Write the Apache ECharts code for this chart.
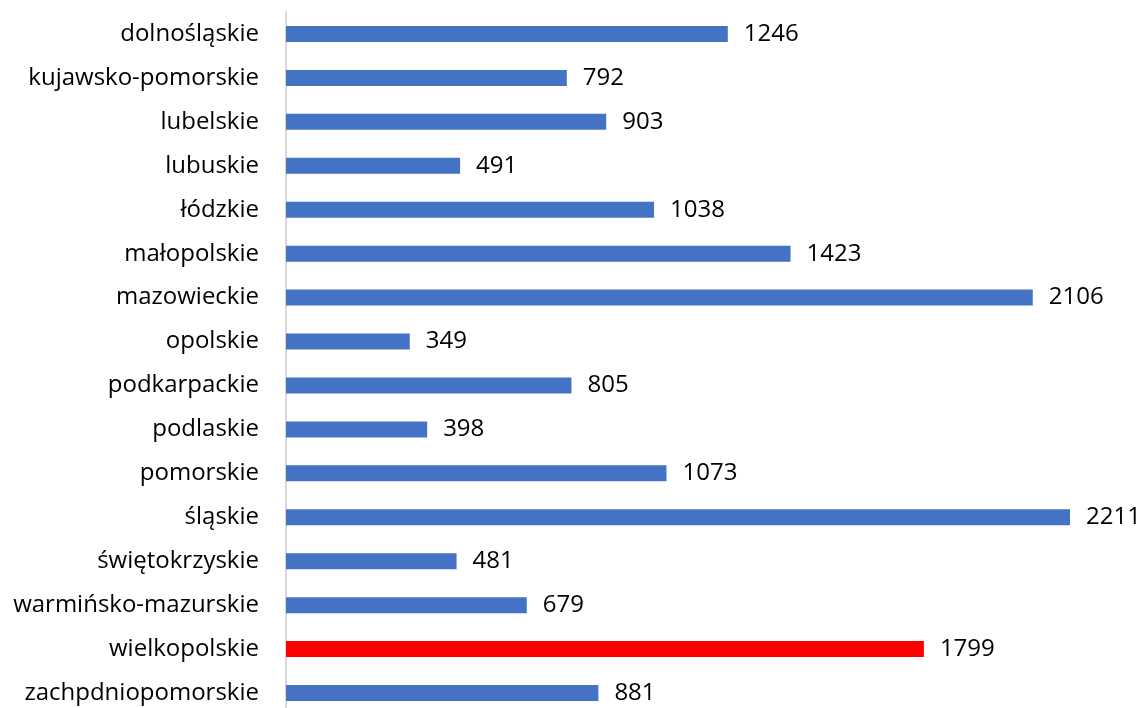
<!DOCTYPE html>
<html><head><meta charset="utf-8">
<script src="https://cdn.jsdelivr.net/npm/echarts@6/dist/echarts.min.js"></script>
<style>html,body{margin:0;padding:0;background:#fff;overflow:hidden}#c{width:1148px;height:715px}</style>
</head><body><div id="c"></div>
<script>
const categories = ["dolnośląskie","kujawsko-pomorskie","lubelskie","lubuskie","łódzkie","małopolskie","mazowieckie","opolskie","podkarpackie","podlaskie","pomorskie","śląskie","świętokrzyskie","warmińsko-mazurskie","wielkopolskie","zachpdniopomorskie"];
const values = [1246,792,903,491,1038,1423,2106,349,805,398,1073,2211,481,679,1799,881];
const highlight = "wielkopolskie";

const chart = echarts.init(document.getElementById('c'), null, {renderer:'canvas'});
const FONT = '"Open Sans", "Noto Sans", sans-serif';
chart.setOption({
  animation:false,
  grid:{left:286, top:12, right:0, bottom:0},
  xAxis:{type:'value', min:0, max:2431, show:false},
  yAxis:{type:'category', data:categories, inverse:true,
    axisLine:{show:true, lineStyle:{color:'#D9D9D9', width:2}},
    axisTick:{show:false},
    axisLabel:{margin:27, color:'#000', fontSize:24, fontFamily:FONT}},
  series:[{type:'bar', barWidth:16,
    data: values.map((v,i)=>({value:v, itemStyle:{color: categories[i]===highlight ? '#FF0000' : '#4472C4'}})),
    label:{show:true, position:'right', distance:16, color:'#000', fontSize:24, fontFamily:FONT}
  }]
});
</script></body></html>
